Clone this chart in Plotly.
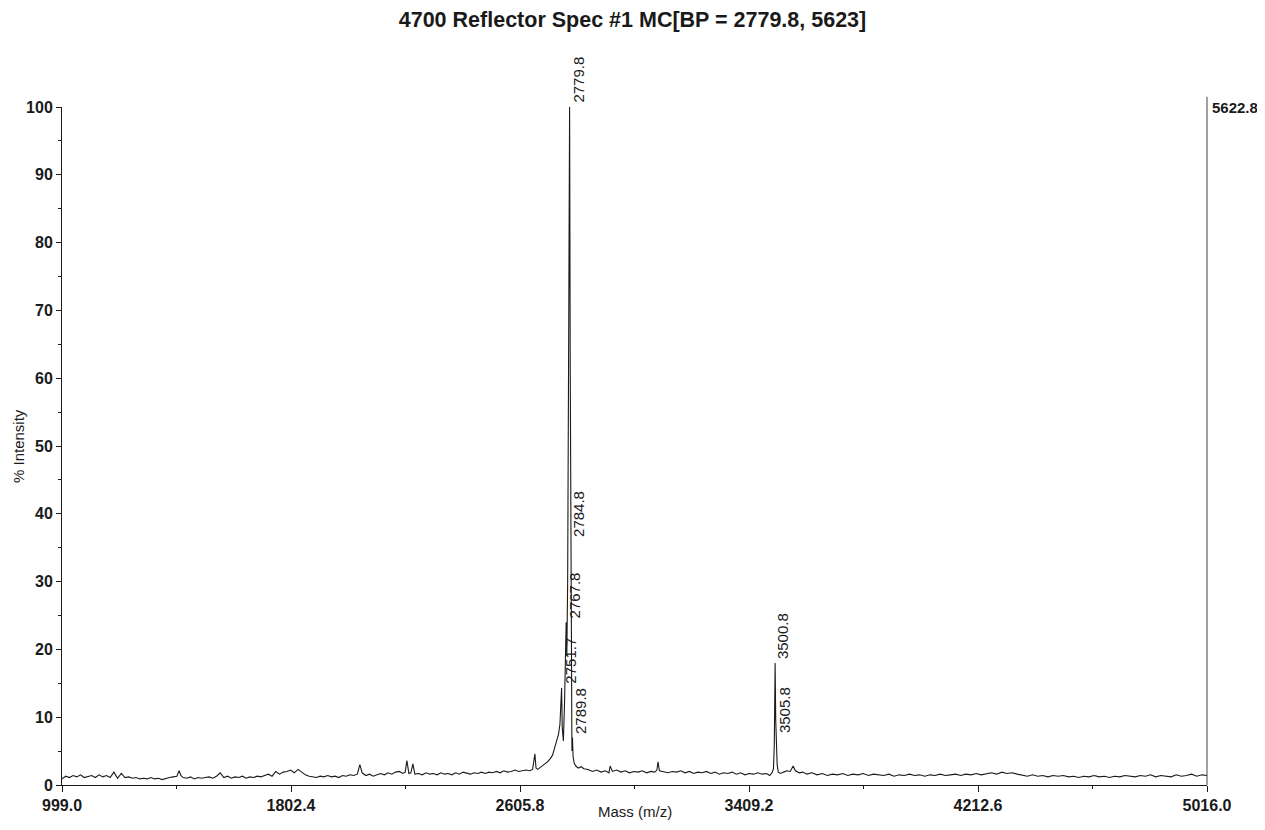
"""MALDI reflector spectrum (4700 Reflector Spec #1) redrawn with Plotly."""
import plotly.graph_objects as go

# --- spectrum (% intensity vs m/z) ---
low_mass = [
    999, 1012, 1025, 1038, 1051, 1064, 1077, 1090, 1103, 1116,
    1129, 1142, 1155, 1168, 1181, 1194, 1207, 1220, 1233, 1246,
    1259, 1272, 1285, 1298, 1311, 1324, 1337, 1350, 1363, 1376,
    1389, 1402, 1410, 1416, 1424, 1437, 1450, 1463, 1476, 1489,
    1502, 1515, 1528, 1541, 1554, 1567, 1580, 1593, 1606, 1619,
    1632, 1645, 1658, 1671, 1684, 1697, 1710, 1723, 1736, 1749,
    1762, 1775, 1788, 1801, 1814, 1827, 1840, 1853, 1866, 1879,
    1892, 1905, 1918, 1931, 1944, 1957, 1970, 1983, 1996, 2009,
    2022, 2035, 2044, 2052, 2065, 2078, 2091, 2104, 2117, 2130,
    2143, 2156, 2169, 2182, 2195, 2203, 2209, 2216, 2223, 2230,
    2237, 2250, 2263, 2276, 2289, 2302, 2315, 2328, 2341, 2354,
    2367, 2380, 2393, 2406, 2419, 2432, 2445, 2458, 2471, 2484,
    2497, 2510, 2523, 2536, 2549, 2562, 2575, 2588, 2601, 2614,
    2627, 2640, 2650,
]
low_int = [
    0.9, 1.3, 1.1, 1.4, 1.2, 1.5, 1.1, 1.3, 1.4, 1.1,
    1.5, 1.2, 1.4, 1.1, 1.9, 1.0, 1.7, 1.1, 1.2, 1.0,
    1.1, 0.9, 1.0, 0.9, 1.1, 0.9, 1.0, 0.8, 1.0, 1.1,
    1.2, 1.3, 2.1, 1.4, 1.1, 1.0, 1.2, 0.9, 1.1, 1.0,
    1.1, 1.2, 1.0, 1.3, 1.8, 1.1, 1.3, 1.0, 1.2, 1.1,
    1.3, 1.0, 1.2, 1.1, 1.3, 1.2, 1.4, 1.6, 1.3, 2.0,
    1.6, 1.9, 2.0, 2.2, 1.8, 2.3, 1.9, 1.5, 1.3, 1.2,
    1.1, 1.3, 1.2, 1.4, 1.2, 1.3, 1.1, 1.4, 1.3, 1.5,
    1.4, 1.6, 3.0, 1.8, 1.4, 1.6, 1.3, 1.5, 1.7, 1.5,
    1.8, 1.6, 1.9, 2.0, 1.7, 1.9, 3.6, 1.7, 1.8, 3.1,
    1.6, 1.7, 1.5, 1.8, 1.6, 1.7, 1.5, 1.8, 1.6, 1.7,
    1.5, 1.8, 1.6, 1.9, 1.7, 1.6, 1.8, 1.7, 1.9, 1.7,
    1.9, 1.8, 2.0, 1.8, 2.1, 1.9, 2.0, 2.2, 2.0, 2.1,
    2.2, 2.1, 2.3,
]

cluster_mass = [
    2658, 2662, 2668, 2680, 2692, 2702, 2712, 2720, 2728, 2735,
    2741, 2746, 2749, 2751.7, 2754, 2758, 2762, 2765, 2767.8, 2770,
    2773, 2776, 2779.8, 2782, 2784.8, 2786.5, 2788, 2789.8, 2792, 2796,
    2802, 2810, 2820, 2830,
]
cluster_int = [
    4.6, 2.5, 2.3, 2.7, 3.0, 3.4, 3.9, 4.4, 5.6, 6.5,
    7.5, 9.0, 11.0, 14.3, 8.5, 6.5, 12.0, 17.0, 24.0, 19.0,
    30.0, 60.0, 100.0, 62.0, 36.0, 14.0, 5.0, 7.0, 4.2, 3.2,
    2.8, 2.5, 2.7, 2.4,
]

mid_mass = [
    2845, 2860, 2875, 2890, 2905, 2918, 2922, 2930, 2945, 2960,
    2975, 2990, 3005, 3020, 3035, 3050, 3065, 3078, 3086, 3090,
    3095, 3110, 3125, 3140, 3155, 3170, 3185, 3200, 3215, 3230,
    3245, 3260, 3275, 3290, 3305, 3320, 3335, 3350, 3365, 3380,
    3395, 3410, 3425, 3440, 3455, 3470, 3482, 3490, 3495, 3498,
    3500.8, 3503, 3505.8, 3508, 3512, 3520, 3530, 3542, 3554, 3564,
    3572, 3585, 3598,
]
mid_int = [
    2.3, 2.0, 2.2, 1.9, 2.1, 1.8, 2.8, 2.0, 2.2, 1.9,
    2.1, 1.8, 2.0, 1.9, 2.1, 1.8, 2.0, 1.9, 2.2, 3.4,
    2.1, 2.0, 1.8, 2.0, 1.9, 2.1, 1.8, 2.0, 1.7, 1.9,
    1.8, 2.0, 1.7, 1.9, 1.6, 1.8, 1.7, 1.9, 1.6, 1.8,
    1.5, 1.7, 1.6, 1.8, 1.6, 1.7, 1.4, 1.8, 2.4, 6.0,
    18.0, 9.5, 7.0, 3.0, 1.9, 1.7, 1.9, 2.1, 2.0, 2.8,
    2.1, 1.8, 1.9,
]

high_mass = [
    3612, 3630, 3648, 3666, 3684, 3702, 3720, 3738, 3756, 3774,
    3792, 3810, 3828, 3846, 3864, 3882, 3900, 3918, 3936, 3954,
    3972, 3990, 4008, 4026, 4044, 4062, 4080, 4098, 4116, 4134,
    4152, 4170, 4188, 4206, 4224, 4242, 4260, 4278, 4296, 4314,
    4332, 4350, 4368, 4386, 4404, 4422, 4440, 4458, 4476, 4494,
    4512, 4530, 4548, 4566, 4584, 4602, 4620, 4638, 4656, 4674,
    4692, 4710, 4728, 4746, 4764, 4782, 4800, 4818, 4836, 4854,
    4872, 4890, 4908, 4926, 4944, 4962, 4980, 4998, 5016,
]
high_int = [
    1.6, 1.8, 1.5, 1.7, 1.4, 1.6, 1.5, 1.7, 1.4, 1.6,
    1.5, 1.7, 1.4, 1.6, 1.5, 1.4, 1.6, 1.3, 1.5, 1.4,
    1.6, 1.4, 1.5, 1.3, 1.5, 1.4, 1.6, 1.4, 1.5, 1.6,
    1.4, 1.6, 1.5, 1.7, 1.5, 1.6, 1.8, 1.6, 1.9, 1.7,
    1.8, 1.6, 1.4, 1.3, 1.5, 1.3, 1.4, 1.2, 1.4, 1.3,
    1.4, 1.2, 1.3, 1.1, 1.3, 1.2, 1.4, 1.2, 1.3, 1.1,
    1.3, 1.2, 1.4, 1.3, 1.2, 1.4, 1.3, 1.5, 1.2, 1.4,
    1.3, 1.2, 1.5, 1.3, 1.4, 1.6, 1.3, 1.5, 1.4,
]

# labelled peaks
label_mass = [2779.8, 2784.8, 2767.8, 2751.7, 2789.8, 3500.8, 3505.8]
label_int = [100.0, 36.0, 24.0, 14.3, 7.0, 18.0, 7.0]
label_text = ["2779.8", "2784.8", "2767.8", "2751.7", "2789.8", "3500.8", "3505.8"]

# axes
x_ticks = [999.0, 1802.4, 2605.8, 3409.2, 4212.6, 5016.0]
x_tick_text = ["999.0", "1802.4", "2605.8", "3409.2", "4212.6", "5016.0"]
y_ticks = [0, 10, 20, 30, 40, 50, 60, 70, 80, 90, 100]
max_counts = "5622.8"
title_text = "4700 Reflector Spec #1 MC[BP = 2779.8, 5623]"

FONT = "Liberation Sans, Arial, sans-serif"
INK = "#1a1a1a"

# the page body adds an 8 px margin all round; keep the figure inside the window
FIG_W, FIG_H = 1249, 814

mass = low_mass + cluster_mass + mid_mass + high_mass
intensity = low_int + cluster_int + mid_int + high_int

fig = go.Figure(go.Scatter(
    x=mass,
    y=intensity,
    mode="lines",
    line={"color": INK, "width": 1.1},
    hoverinfo="skip",
    showlegend=False,
))

for m, v, t in zip(label_mass, label_int, label_text):
    fig.add_annotation(
        x=m, y=v, text=t, textangle=-90,
        showarrow=False, xanchor="center", yanchor="bottom",
        xshift=8, yshift=2,
        font={"family": FONT, "size": 15, "color": INK},
    )

# base peak absolute intensity, right of the range marker
fig.add_annotation(
    x=1, xref="paper", y=100, text=f"<b>{max_counts}</b>",
    showarrow=False, xanchor="left", yanchor="middle", xshift=3,
    font={"family": FONT, "size": 15, "color": INK},
)
# axis titles placed by hand
fig.add_annotation(
    x=0, xref="paper", y=0.5, yref="paper", text="% Intensity",
    textangle=-90, showarrow=False, xanchor="center", yanchor="middle",
    xshift=-44, font={"family": FONT, "size": 15, "color": INK},
)
fig.add_annotation(
    x=0.5, xref="paper", y=0, yref="paper", text="Mass (m/z)",
    showarrow=False, xanchor="center", yanchor="bottom",
    yshift=-37, font={"family": FONT, "size": 15, "color": INK},
)
# right range marker
fig.add_shape(
    type="line", xref="paper", yref="paper",
    x0=1, x1=1, y0=0, y1=1.015,
    line={"color": "#444", "width": 1},
)

fig.update_layout(
    width=FIG_W,
    height=FIG_H,
    paper_bgcolor="white",
    plot_bgcolor="white",
    font={"family": FONT, "color": INK},
    margin={"l": 54, "r": 50, "t": 99, "b": 37},
    title={
        "text": f"<b>{title_text}</b>",
        "x": 0.5, "xanchor": "center",
        "y": 1 - 11 / FIG_H, "yanchor": "middle",
        "font": {"family": FONT, "size": 21.5, "color": INK},
    },
    xaxis={
        "range": [999.0, 5016.0],
        "automargin": False,
        "tickmode": "array",
        "tickvals": x_ticks,
        "ticktext": x_tick_text,
        "tickfont": {"family": FONT, "size": 16, "weight": "bold", "color": INK},
        "ticks": "outside", "ticklen": 6, "tickcolor": INK,
        "minor": {"tick0": 999.0, "dtick": 401.7, "ticks": "outside",
                  "ticklen": 3, "tickcolor": INK},
        "showline": True, "linecolor": INK, "linewidth": 1,
        "showgrid": False, "zeroline": False,
    },
    yaxis={
        "range": [0, 100],
        "automargin": False,
        "tickmode": "array",
        "tickvals": y_ticks,
        "tickfont": {"family": FONT, "size": 16, "weight": "bold", "color": INK},
        "ticks": "outside", "ticklen": 5, "tickcolor": INK,
        "minor": {"dtick": 5, "ticks": "outside", "ticklen": 3, "tickcolor": INK},
        "showline": True, "linecolor": INK, "linewidth": 1,
        "showgrid": False, "zeroline": False,
    },
)

fig.write_html("out.html")
